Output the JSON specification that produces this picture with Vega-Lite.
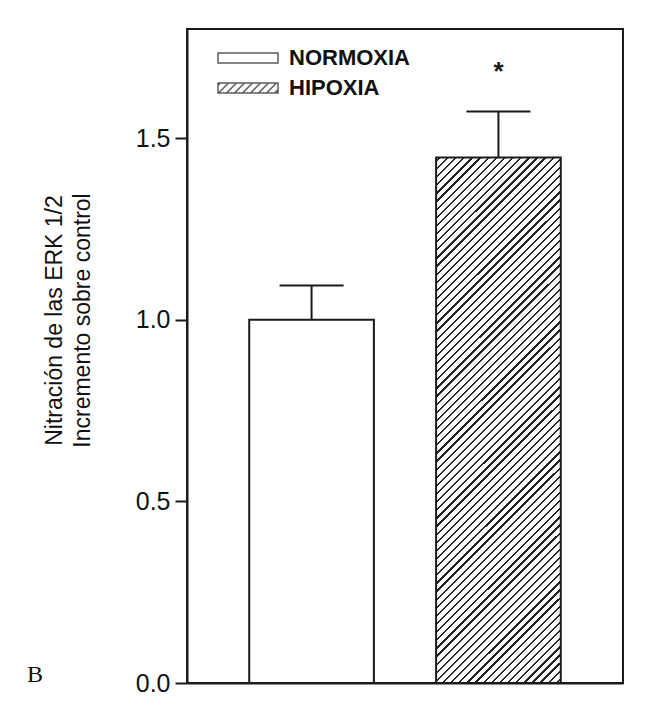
{
 "$schema": "https://vega.github.io/schema/vega-lite/v6.json",
 "width": 436,
 "height": 654,
 "autosize": "none",
 "padding": {"left": 187, "top": 29, "right": 38, "bottom": 37},
 "background": "white",
 "title": {"text": "B", "orient": "bottom", "anchor": "start", "frame": "group", "font": "Liberation Serif", "fontSize": 24, "fontWeight": "normal", "color": "#111", "dx": -160, "dy": -21, "offset": 0, "baseline": "middle"},
 "data": {"values": [
  {"group": "NORMOXIA", "mean": 1.0, "upper": 1.094},
  {"group": "HIPOXIA", "mean": 1.446, "upper": 1.573, "sig": "*"}
 ]},
 "encoding": {
  "x": {"field": "group", "type": "nominal", "sort": null,
   "scale": {"domain": ["NORMOXIA", "HIPOXIA"], "paddingInner": 0.333, "paddingOuter": 0.333},
   "axis": {"title": null, "labels": false, "ticks": false, "domain": true, "grid": false}},
  "y": {"field": "mean", "type": "quantitative",
   "scale": {"domain": [0, 1.8], "nice": false},
   "title": ["Nitración de las ERK 1/2", "Incremento sobre control"],
   "axis": {"values": [0, 0.5, 1, 1.5], "format": ".1f", "grid": false,
    "titleX": -121, "titleY": 291, "titleBaseline": "bottom", "titleAlign": "center", "titleAngle": 270}}
 },
 "layer": [
  {
   "transform": [{"filter": "datum.group === 'NORMOXIA'"}],
   "mark": {"type": "bar", "fill": "white", "stroke": "#1a1a1a", "strokeWidth": 2}
  },
  {
   "transform": [{"filter": "datum.group === 'HIPOXIA'"}],
   "mark": {"type": "bar", "stroke": "#1a1a1a", "strokeWidth": 2,
    "fill": {"gradient": "linear", "x1": 0, "y1": 0, "x2": 0.2778, "y2": 1.1713, "stops": [
{"offset":0.004,"color":"#fff"},{"offset":0.004,"color":"#222"},{"offset":0.0075,"color":"#222"},{"offset":0.0075,"color":"#fff"},
{"offset":0.0165,"color":"#fff"},{"offset":0.0165,"color":"#222"},{"offset":0.02,"color":"#222"},{"offset":0.02,"color":"#fff"},
{"offset":0.029,"color":"#fff"},{"offset":0.029,"color":"#222"},{"offset":0.0325,"color":"#222"},{"offset":0.0325,"color":"#fff"},
{"offset":0.0415,"color":"#fff"},{"offset":0.0415,"color":"#222"},{"offset":0.045,"color":"#222"},{"offset":0.045,"color":"#fff"},
{"offset":0.054,"color":"#fff"},{"offset":0.054,"color":"#222"},{"offset":0.0575,"color":"#222"},{"offset":0.0575,"color":"#fff"},
{"offset":0.0665,"color":"#fff"},{"offset":0.0665,"color":"#222"},{"offset":0.07,"color":"#222"},{"offset":0.07,"color":"#fff"},
{"offset":0.079,"color":"#fff"},{"offset":0.079,"color":"#222"},{"offset":0.0825,"color":"#222"},{"offset":0.0825,"color":"#fff"},
{"offset":0.0915,"color":"#fff"},{"offset":0.0915,"color":"#222"},{"offset":0.095,"color":"#222"},{"offset":0.095,"color":"#fff"},
{"offset":0.104,"color":"#fff"},{"offset":0.104,"color":"#222"},{"offset":0.1075,"color":"#222"},{"offset":0.1075,"color":"#fff"},
{"offset":0.1165,"color":"#fff"},{"offset":0.1165,"color":"#222"},{"offset":0.12,"color":"#222"},{"offset":0.12,"color":"#fff"},
{"offset":0.129,"color":"#fff"},{"offset":0.129,"color":"#222"},{"offset":0.1325,"color":"#222"},{"offset":0.1325,"color":"#fff"},
{"offset":0.1415,"color":"#fff"},{"offset":0.1415,"color":"#222"},{"offset":0.145,"color":"#222"},{"offset":0.145,"color":"#fff"},
{"offset":0.154,"color":"#fff"},{"offset":0.154,"color":"#222"},{"offset":0.1575,"color":"#222"},{"offset":0.1575,"color":"#fff"},
{"offset":0.1665,"color":"#fff"},{"offset":0.1665,"color":"#222"},{"offset":0.17,"color":"#222"},{"offset":0.17,"color":"#fff"},
{"offset":0.179,"color":"#fff"},{"offset":0.179,"color":"#222"},{"offset":0.1825,"color":"#222"},{"offset":0.1825,"color":"#fff"},
{"offset":0.1915,"color":"#fff"},{"offset":0.1915,"color":"#222"},{"offset":0.195,"color":"#222"},{"offset":0.195,"color":"#fff"},
{"offset":0.204,"color":"#fff"},{"offset":0.204,"color":"#222"},{"offset":0.2075,"color":"#222"},{"offset":0.2075,"color":"#fff"},
{"offset":0.2165,"color":"#fff"},{"offset":0.2165,"color":"#222"},{"offset":0.22,"color":"#222"},{"offset":0.22,"color":"#fff"},
{"offset":0.229,"color":"#fff"},{"offset":0.229,"color":"#222"},{"offset":0.2325,"color":"#222"},{"offset":0.2325,"color":"#fff"},
{"offset":0.2415,"color":"#fff"},{"offset":0.2415,"color":"#222"},{"offset":0.245,"color":"#222"},{"offset":0.245,"color":"#fff"},
{"offset":0.254,"color":"#fff"},{"offset":0.254,"color":"#222"},{"offset":0.2575,"color":"#222"},{"offset":0.2575,"color":"#fff"},
{"offset":0.2665,"color":"#fff"},{"offset":0.2665,"color":"#222"},{"offset":0.27,"color":"#222"},{"offset":0.27,"color":"#fff"},
{"offset":0.279,"color":"#fff"},{"offset":0.279,"color":"#222"},{"offset":0.2825,"color":"#222"},{"offset":0.2825,"color":"#fff"},
{"offset":0.2915,"color":"#fff"},{"offset":0.2915,"color":"#222"},{"offset":0.295,"color":"#222"},{"offset":0.295,"color":"#fff"},
{"offset":0.304,"color":"#fff"},{"offset":0.304,"color":"#222"},{"offset":0.3075,"color":"#222"},{"offset":0.3075,"color":"#fff"},
{"offset":0.3165,"color":"#fff"},{"offset":0.3165,"color":"#222"},{"offset":0.32,"color":"#222"},{"offset":0.32,"color":"#fff"},
{"offset":0.329,"color":"#fff"},{"offset":0.329,"color":"#222"},{"offset":0.3325,"color":"#222"},{"offset":0.3325,"color":"#fff"},
{"offset":0.3415,"color":"#fff"},{"offset":0.3415,"color":"#222"},{"offset":0.345,"color":"#222"},{"offset":0.345,"color":"#fff"},
{"offset":0.354,"color":"#fff"},{"offset":0.354,"color":"#222"},{"offset":0.3575,"color":"#222"},{"offset":0.3575,"color":"#fff"},
{"offset":0.3665,"color":"#fff"},{"offset":0.3665,"color":"#222"},{"offset":0.37,"color":"#222"},{"offset":0.37,"color":"#fff"},
{"offset":0.379,"color":"#fff"},{"offset":0.379,"color":"#222"},{"offset":0.3825,"color":"#222"},{"offset":0.3825,"color":"#fff"},
{"offset":0.3915,"color":"#fff"},{"offset":0.3915,"color":"#222"},{"offset":0.395,"color":"#222"},{"offset":0.395,"color":"#fff"},
{"offset":0.404,"color":"#fff"},{"offset":0.404,"color":"#222"},{"offset":0.4075,"color":"#222"},{"offset":0.4075,"color":"#fff"},
{"offset":0.4165,"color":"#fff"},{"offset":0.4165,"color":"#222"},{"offset":0.42,"color":"#222"},{"offset":0.42,"color":"#fff"},
{"offset":0.429,"color":"#fff"},{"offset":0.429,"color":"#222"},{"offset":0.4325,"color":"#222"},{"offset":0.4325,"color":"#fff"},
{"offset":0.4415,"color":"#fff"},{"offset":0.4415,"color":"#222"},{"offset":0.445,"color":"#222"},{"offset":0.445,"color":"#fff"},
{"offset":0.454,"color":"#fff"},{"offset":0.454,"color":"#222"},{"offset":0.4575,"color":"#222"},{"offset":0.4575,"color":"#fff"},
{"offset":0.4665,"color":"#fff"},{"offset":0.4665,"color":"#222"},{"offset":0.47,"color":"#222"},{"offset":0.47,"color":"#fff"},
{"offset":0.479,"color":"#fff"},{"offset":0.479,"color":"#222"},{"offset":0.4825,"color":"#222"},{"offset":0.4825,"color":"#fff"},
{"offset":0.4915,"color":"#fff"},{"offset":0.4915,"color":"#222"},{"offset":0.495,"color":"#222"},{"offset":0.495,"color":"#fff"},
{"offset":0.504,"color":"#fff"},{"offset":0.504,"color":"#222"},{"offset":0.5075,"color":"#222"},{"offset":0.5075,"color":"#fff"},
{"offset":0.5165,"color":"#fff"},{"offset":0.5165,"color":"#222"},{"offset":0.52,"color":"#222"},{"offset":0.52,"color":"#fff"},
{"offset":0.529,"color":"#fff"},{"offset":0.529,"color":"#222"},{"offset":0.5325,"color":"#222"},{"offset":0.5325,"color":"#fff"},
{"offset":0.5415,"color":"#fff"},{"offset":0.5415,"color":"#222"},{"offset":0.545,"color":"#222"},{"offset":0.545,"color":"#fff"},
{"offset":0.554,"color":"#fff"},{"offset":0.554,"color":"#222"},{"offset":0.5575,"color":"#222"},{"offset":0.5575,"color":"#fff"},
{"offset":0.5665,"color":"#fff"},{"offset":0.5665,"color":"#222"},{"offset":0.57,"color":"#222"},{"offset":0.57,"color":"#fff"},
{"offset":0.579,"color":"#fff"},{"offset":0.579,"color":"#222"},{"offset":0.5825,"color":"#222"},{"offset":0.5825,"color":"#fff"},
{"offset":0.5915,"color":"#fff"},{"offset":0.5915,"color":"#222"},{"offset":0.595,"color":"#222"},{"offset":0.595,"color":"#fff"},
{"offset":0.604,"color":"#fff"},{"offset":0.604,"color":"#222"},{"offset":0.6075,"color":"#222"},{"offset":0.6075,"color":"#fff"},
{"offset":0.6165,"color":"#fff"},{"offset":0.6165,"color":"#222"},{"offset":0.62,"color":"#222"},{"offset":0.62,"color":"#fff"},
{"offset":0.629,"color":"#fff"},{"offset":0.629,"color":"#222"},{"offset":0.6325,"color":"#222"},{"offset":0.6325,"color":"#fff"},
{"offset":0.6415,"color":"#fff"},{"offset":0.6415,"color":"#222"},{"offset":0.645,"color":"#222"},{"offset":0.645,"color":"#fff"},
{"offset":0.654,"color":"#fff"},{"offset":0.654,"color":"#222"},{"offset":0.6575,"color":"#222"},{"offset":0.6575,"color":"#fff"},
{"offset":0.6665,"color":"#fff"},{"offset":0.6665,"color":"#222"},{"offset":0.67,"color":"#222"},{"offset":0.67,"color":"#fff"},
{"offset":0.679,"color":"#fff"},{"offset":0.679,"color":"#222"},{"offset":0.6825,"color":"#222"},{"offset":0.6825,"color":"#fff"},
{"offset":0.6915,"color":"#fff"},{"offset":0.6915,"color":"#222"},{"offset":0.695,"color":"#222"},{"offset":0.695,"color":"#fff"},
{"offset":0.704,"color":"#fff"},{"offset":0.704,"color":"#222"},{"offset":0.7075,"color":"#222"},{"offset":0.7075,"color":"#fff"},
{"offset":0.7165,"color":"#fff"},{"offset":0.7165,"color":"#222"},{"offset":0.72,"color":"#222"},{"offset":0.72,"color":"#fff"},
{"offset":0.729,"color":"#fff"},{"offset":0.729,"color":"#222"},{"offset":0.7325,"color":"#222"},{"offset":0.7325,"color":"#fff"},
{"offset":0.7415,"color":"#fff"},{"offset":0.7415,"color":"#222"},{"offset":0.745,"color":"#222"},{"offset":0.745,"color":"#fff"},
{"offset":0.754,"color":"#fff"},{"offset":0.754,"color":"#222"},{"offset":0.7575,"color":"#222"},{"offset":0.7575,"color":"#fff"},
{"offset":0.7665,"color":"#fff"},{"offset":0.7665,"color":"#222"},{"offset":0.77,"color":"#222"},{"offset":0.77,"color":"#fff"},
{"offset":0.779,"color":"#fff"},{"offset":0.779,"color":"#222"},{"offset":0.7825,"color":"#222"},{"offset":0.7825,"color":"#fff"},
{"offset":0.7915,"color":"#fff"},{"offset":0.7915,"color":"#222"},{"offset":0.795,"color":"#222"},{"offset":0.795,"color":"#fff"},
{"offset":0.804,"color":"#fff"},{"offset":0.804,"color":"#222"},{"offset":0.8075,"color":"#222"},{"offset":0.8075,"color":"#fff"},
{"offset":0.8165,"color":"#fff"},{"offset":0.8165,"color":"#222"},{"offset":0.82,"color":"#222"},{"offset":0.82,"color":"#fff"},
{"offset":0.829,"color":"#fff"},{"offset":0.829,"color":"#222"},{"offset":0.8325,"color":"#222"},{"offset":0.8325,"color":"#fff"},
{"offset":0.8415,"color":"#fff"},{"offset":0.8415,"color":"#222"},{"offset":0.845,"color":"#222"},{"offset":0.845,"color":"#fff"},
{"offset":0.854,"color":"#fff"},{"offset":0.854,"color":"#222"},{"offset":0.8575,"color":"#222"},{"offset":0.8575,"color":"#fff"},
{"offset":0.8665,"color":"#fff"},{"offset":0.8665,"color":"#222"},{"offset":0.87,"color":"#222"},{"offset":0.87,"color":"#fff"},
{"offset":0.879,"color":"#fff"},{"offset":0.879,"color":"#222"},{"offset":0.8825,"color":"#222"},{"offset":0.8825,"color":"#fff"},
{"offset":0.8915,"color":"#fff"},{"offset":0.8915,"color":"#222"},{"offset":0.895,"color":"#222"},{"offset":0.895,"color":"#fff"},
{"offset":0.904,"color":"#fff"},{"offset":0.904,"color":"#222"},{"offset":0.9075,"color":"#222"},{"offset":0.9075,"color":"#fff"},
{"offset":0.9165,"color":"#fff"},{"offset":0.9165,"color":"#222"},{"offset":0.92,"color":"#222"},{"offset":0.92,"color":"#fff"},
{"offset":0.929,"color":"#fff"},{"offset":0.929,"color":"#222"},{"offset":0.9325,"color":"#222"},{"offset":0.9325,"color":"#fff"},
{"offset":0.9415,"color":"#fff"},{"offset":0.9415,"color":"#222"},{"offset":0.945,"color":"#222"},{"offset":0.945,"color":"#fff"},
{"offset":0.954,"color":"#fff"},{"offset":0.954,"color":"#222"},{"offset":0.9575,"color":"#222"},{"offset":0.9575,"color":"#fff"},
{"offset":0.9665,"color":"#fff"},{"offset":0.9665,"color":"#222"},{"offset":0.97,"color":"#222"},{"offset":0.97,"color":"#fff"},
{"offset":0.979,"color":"#fff"},{"offset":0.979,"color":"#222"},{"offset":0.9825,"color":"#222"},{"offset":0.9825,"color":"#fff"},
{"offset":0.9915,"color":"#fff"},{"offset":0.9915,"color":"#222"},{"offset":0.995,"color":"#222"},{"offset":0.995,"color":"#fff"}
    ]}}
  },
  {
   "mark": {"type": "rule", "color": "#1a1a1a", "strokeWidth": 2},
   "encoding": {"y2": {"field": "upper"}}
  },
  {
   "mark": {"type": "tick", "color": "#1a1a1a", "size": 64, "thickness": 2, "opacity": 1},
   "encoding": {"y": {"field": "upper", "type": "quantitative"}}
  },
  {
   "transform": [{"filter": "isValid(datum.sig)"}],
   "mark": {"type": "text", "font": "Liberation Sans", "fontSize": 26, "fontWeight": "bold", "dy": -31, "baseline": "alphabetic", "color": "#1a1a1a"},
   "encoding": {"y": {"field": "upper", "type": "quantitative"}, "text": {"field": "sig"}}
  },
  {
   "transform": [{"filter": "false"}],
   "mark": {"type": "point", "filled": false, "color": "#1a1a1a", "strokeWidth": 1.5},
   "encoding": {
    "shape": {"field": "group", "type": "nominal",
     "scale": {"domain": ["NORMOXIA", "HIPOXIA"], "range": [
      "M-3,-0.5H3V0.5H-3Z",
      "M-3,-0.5H3V0.5H-3ZM-3,-0.25L-2.75,-0.5M-2.95,0.5L-1.95,-0.5M-2.15,0.5L-1.15,-0.5M-1.35,0.5L-0.35,-0.5M-0.55,0.5L0.45,-0.5M0.25,0.5L1.25,-0.5M1.05,0.5L2.05,-0.5M1.85,0.5L2.85,-0.5M2.65,0.5L3,0.15"
     ]},
     "legend": {"title": null, "orient": "none", "legendX": 50, "legendY": 18, "padding": 0,
      "symbolSize": 400, "symbolStrokeColor": "#1a1a1a", "symbolStrokeWidth": 1.5, "rowPadding": 8,
      "labelFont": "Liberation Sans", "labelFontSize": 22, "labelFontWeight": "bold", "labelColor": "#111", "labelOffset": 30}}
   }
  }
 ],
 "config": {
  "view": {"stroke": "#1a1a1a", "strokeWidth": 2},
  "font": "Liberation Sans",
  "axis": {"domainColor": "#1a1a1a", "domainWidth": 2, "tickColor": "#1a1a1a", "tickWidth": 2, "tickSize": 12,
   "labelFont": "Liberation Sans", "labelFontSize": 25, "labelColor": "#111", "labelPadding": 5,
   "titleFont": "Liberation Sans", "titleFontSize": 23, "titleFontWeight": "normal", "titleColor": "#111", "titleLineHeight": 28}
 }
}
